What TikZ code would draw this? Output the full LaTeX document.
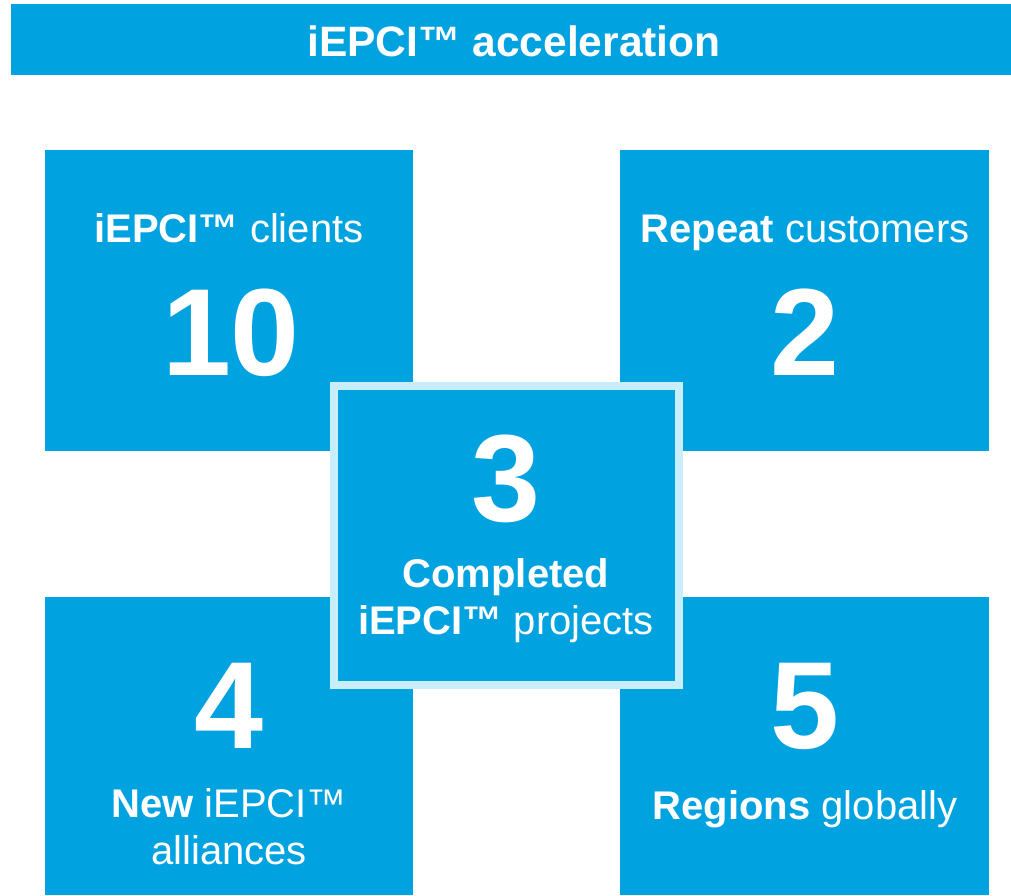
\documentclass[tikz,border=0pt]{standalone}
\usepackage{fontspec}
\setmainfont{Liberation Sans}
\definecolor{tileblue}{HTML}{00A3E0}
\definecolor{edgeblue}{HTML}{C8EEFC}
\tikzset{
  tile/.style={fill=tileblue, inner sep=0pt, outer sep=0pt, anchor=north west},
  tiletext/.style={text=white, inner sep=0pt, anchor=base, align=center,
    font=\fontsize{40}{47}\selectfont},
  bignum/.style={text=white, inner sep=0pt, anchor=base,
    font=\fontsize{124}{124}\selectfont\bfseries}
}
\begin{document}
\begin{tikzpicture}[x=1pt,y=-1pt]
  \useasboundingbox (0,0) rectangle (1011,895);
  % title bar
  \node[tile, minimum width=1000pt, minimum height=71pt] (bar) at (11,4) {};
  \node[tiletext, font=\fontsize{42.5}{48}\selectfont\bfseries] (title) at (514,56) {iEPCI™ acceleration};
  % four corner tiles
  \node[tile, minimum width=368pt, minimum height=301pt] (clients) at (45,150) {};
  \node[tile, minimum width=369pt, minimum height=301pt] (repeat) at (620,150) {};
  \node[tile, minimum width=368pt, minimum height=298pt] (alliances) at (45,597) {};
  \node[tile, minimum width=369pt, minimum height=298pt] (regions) at (620,597) {};
  % centre tile
  \node[tile, draw=edgeblue, line width=8pt, minimum width=345pt, minimum height=299pt] (projects) at (334,386) {};
  % texts
  \node[tiletext] (clientstxt) at (229,242) {\textbf{iEPCI™} clients};
  \node[bignum] (clientsnum) at (231,375) {10};
  \node[tiletext] (repeattxt) at (805,242) {\textbf{Repeat} customers};
  \node[bignum] (repeatnum) at (805,375) {2};
  \node[bignum] (projectsnum) at (506,521) {3};
  \node[tiletext] (projectstxt) at (506,634) {\textbf{Completed}\\\textbf{iEPCI™} projects};
  \node[bignum] (alliancesnum) at (229,748) {4};
  \node[tiletext] (alliancestxt) at (229,864) {\textbf{New} iEPCI™\\alliances};
  \node[bignum] (regionsnum) at (805,748) {5};
  \node[tiletext] (regionstxt) at (805,819) {\textbf{Regions} globally};
\end{tikzpicture}
\end{document}
